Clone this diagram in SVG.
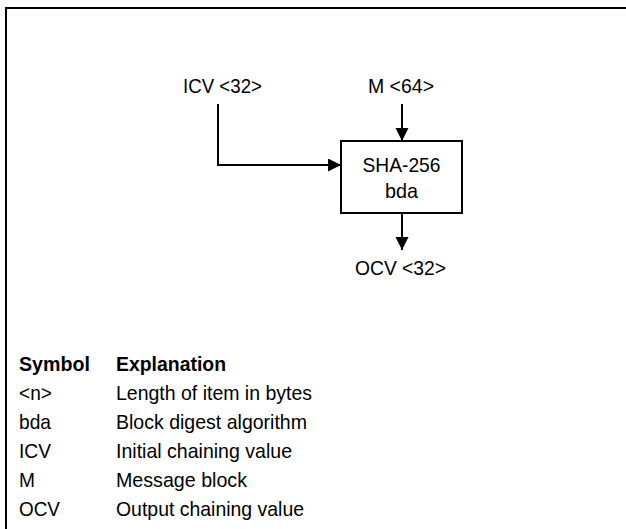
<svg xmlns="http://www.w3.org/2000/svg" width="626" height="529" viewBox="0 0 626 529">
<defs>
<style>
text{font-family:"Liberation Sans",Arial,sans-serif;font-size:21px;fill:#000}
.c{text-anchor:middle}
.b{font-weight:bold}
.ln{fill:none;stroke:#000;stroke-width:2}
</style>
<marker id="ah" markerUnits="userSpaceOnUse" markerWidth="14" markerHeight="14" refX="13" refY="6.5" orient="auto">
<path d="M0,0 L13,6.5 L0,13 z" fill="#000"/>
</marker>
</defs>
<rect width="626" height="529" fill="#fff"/>
<path class="ln" d="M6,529 V8 H626" stroke-width="2.2"/>
<g id="connectors">
<path class="ln" d="M218,104 V165 H341" marker-end="url(#ah)"/>
<path class="ln" d="M402,104 V141" marker-end="url(#ah)"/>
<path class="ln" d="M402,213 V250" marker-end="url(#ah)"/>
</g>
<g id="icv"><text class="c" x="222.5" y="93" textLength="79" lengthAdjust="spacingAndGlyphs">ICV &lt;32&gt;</text></g>
<g id="m"><text class="c" x="401" y="93" textLength="66" lengthAdjust="spacingAndGlyphs">M &lt;64&gt;</text></g>
<g id="sha">
<rect class="ln" x="341" y="141" width="121" height="72"/>
<text class="c" x="401.5" y="172" textLength="78" lengthAdjust="spacingAndGlyphs">SHA-256</text>
<text class="c" x="401.5" y="198" textLength="33" lengthAdjust="spacingAndGlyphs">bda</text>
</g>
<g id="ocv"><text class="c" x="400.5" y="275" textLength="91" lengthAdjust="spacingAndGlyphs">OCV &lt;32&gt;</text></g>
<g id="legend">
<text class="b" x="19" y="371" textLength="71" lengthAdjust="spacingAndGlyphs">Symbol</text>
<text class="b" x="116" y="371" textLength="110" lengthAdjust="spacingAndGlyphs">Explanation</text>
<text x="19" y="400" textLength="33" lengthAdjust="spacingAndGlyphs">&lt;n&gt;</text>
<text x="116" y="400" textLength="196" lengthAdjust="spacingAndGlyphs">Length of item in bytes</text>
<text x="19" y="429" textLength="32" lengthAdjust="spacingAndGlyphs">bda</text>
<text x="116" y="429" textLength="191" lengthAdjust="spacingAndGlyphs">Block digest algorithm</text>
<text x="19" y="458" textLength="32" lengthAdjust="spacingAndGlyphs">ICV</text>
<text x="116" y="458" textLength="176" lengthAdjust="spacingAndGlyphs">Initial chaining value</text>
<text x="19" y="487" textLength="16" lengthAdjust="spacingAndGlyphs">M</text>
<text x="116" y="487" textLength="131" lengthAdjust="spacingAndGlyphs">Message block</text>
<text x="19" y="516" textLength="41" lengthAdjust="spacingAndGlyphs">OCV</text>
<text x="116" y="516" textLength="188" lengthAdjust="spacingAndGlyphs">Output chaining value</text>
</g>
</svg>
